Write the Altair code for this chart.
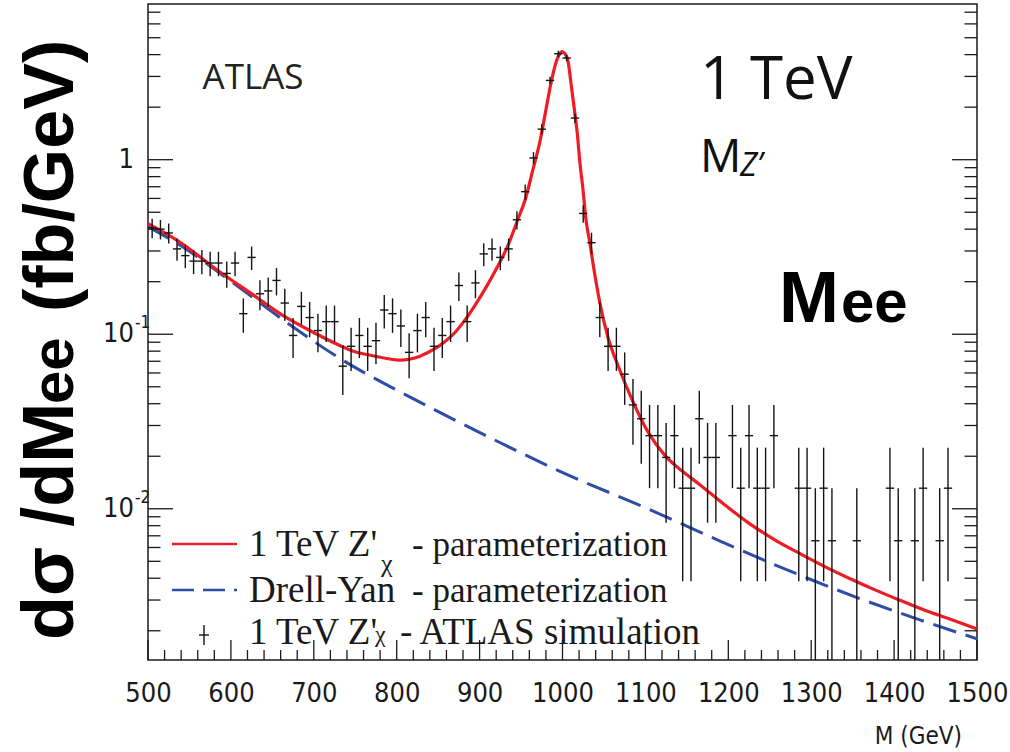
import altair as alt
import pandas as pd

W, H = 829, 656
X_MIN, X_MAX = 500, 1500
Y_MIN, Y_MAX = 1.36e-3, 7.8

# simulated Z' events in 10 GeV bins (500-1500 GeV)
bin_centers = list(range(505, 1500, 10))
event_counts = [62, 61, 58, 47, 43, 40, 40, 39, 39, 34,
                39, 20, 42, 26, 27, 31, 23, 15, 22, 19,
                16, 18, 18, 10, 13, 15, 13, 14, 21, 20,
                17, 12, 16, 19, 13, 15, 18, 29, 18, 30,
                44, 47, 42, 47, 69, 100, 156, 228, 434, 617,
                583, 264, 75, 51, 19, 13, 13, 9, 6, 5,
                4, 4, 3, 4, 2, 2, 5, 3, 3, 0,
                4, 2, 4, 2, 2, 4, 0, 0, 2, 2,
                1, 2, 1, 0, 0, 1, 0, 0, 0, 2,
                1, 0, 1, 2, 0, 1, 2, 0, 0, 0]
event_weight = 0.00656  # fb/GeV carried by one simulated event
bin_width = 10

# Z' (chi model) lineshape parameterization
zp_mass = [500, 536, 588, 623, 665, 705, 732, 746, 771, 798, 804, 828, 846,
           858, 870, 882, 895, 909, 921, 934, 946, 955, 964, 973, 980, 986,
           991, 996, 999, 1003, 1007, 1010, 1014, 1018, 1021, 1025, 1028,
           1033, 1039, 1045, 1055, 1067, 1084, 1103, 1124, 1144, 1166, 1196,
           1226, 1256, 1287, 1317, 1347, 1377, 1407, 1437, 1468, 1500]
zp_xsec = [0.430, 0.343, 0.225, 0.173, 0.126, 0.0993, 0.0859, 0.0804, 0.0753,
           0.0714, 0.0710, 0.0748, 0.0826, 0.0906, 0.102, 0.120, 0.148, 0.190,
           0.241, 0.321, 0.453, 0.590, 0.865, 1.285, 1.93, 2.73, 3.46, 4.00,
           4.16, 4.05, 3.60, 2.80, 1.99, 1.39, 0.961, 0.656, 0.465, 0.334,
           0.219, 0.152, 0.0955, 0.0660, 0.0421, 0.0276, 0.0201, 0.0165,
           0.0137, 0.0105, 0.00820, 0.00664, 0.00552, 0.00465, 0.00397,
           0.00343, 0.00299, 0.00262, 0.00233, 0.00205]

# Drell-Yan parameterization
dy_mass = [500, 536, 599, 675, 732, 804, 846, 925, 1003, 1101, 1192, 1262,
           1353, 1431, 1500]
dy_xsec = [0.413, 0.330, 0.2025, 0.110, 0.0724, 0.0468, 0.0369, 0.0239,
           0.0159, 0.0101, 0.00647, 0.00465, 0.00313, 0.00231, 0.00180]

x_major = list(range(500, 1501, 100))
x_minor = [m for m in range(500, 1501, 20) if m % 100 != 0]
y_major = [0.01, 0.1, 1.0]
y_label_base = ["10", "10", "1"]
y_label_exp = ["-2", "-1", ""]
y_minor = [k * 10.0 ** e for e in (-3, -2, -1, 0) for k in range(2, 10)
           if Y_MIN <= k * 10.0 ** e <= Y_MAX]

# ---------------------------------------------------------------- tables
pts = pd.DataFrame({"m": bin_centers, "n": event_counts})
pts = pts[pts["n"] > 0].copy()
pts["v"] = pts["n"] * event_weight
pts["err"] = pts["n"] ** 0.5 * event_weight          # Poisson uncertainty
pts["lo"] = (pts["v"] - pts["err"]).clip(lower=Y_MIN * 0.5)
pts["hi"] = pts["v"] + pts["err"]
pts["m0"] = pts["m"] - bin_width / 2
pts["m1"] = pts["m"] + bin_width / 2

zp = pd.DataFrame({"m": zp_mass, "v": zp_xsec})
dy = pd.DataFrame({"m": dy_mass, "v": dy_xsec})
ylab = pd.DataFrame({"v": y_major, "base": y_label_base, "exp": y_label_exp})

xs = alt.Scale(domain=[X_MIN, X_MAX], nice=False, zero=False)
ys = alt.Scale(type="log", domain=[Y_MIN, Y_MAX], nice=False)

TICK_FONT = "'DejaVu Sans Condensed', 'Roboto Condensed', Roboto"
INK = "#1a1a1a"

x_axis = alt.Axis(values=x_major, ticks=False, tickSize=0, domain=False,
                  grid=False, labelFont=TICK_FONT, labelFontSize=27,
                  labelColor=INK, labelPadding=20, labelOverlap=False,
                  labelFlush=False, title="", format="d")

dy_line = alt.Chart(dy).mark_line(
    color="#2f4da6", strokeWidth=3, strokeDash=[24, 10], interpolate="monotone",
    clip=True
).encode(x=alt.X("m:Q", scale=xs, axis=x_axis),
         y=alt.Y("v:Q", scale=ys, axis=None))

zp_line = alt.Chart(zp).mark_line(
    color="#ee1c24", strokeWidth=3.2, interpolate="monotone", clip=True
).encode(x=alt.X("m:Q", scale=xs), y=alt.Y("v:Q", scale=ys))

err_v = alt.Chart(pts).mark_rule(color="#141414", strokeWidth=1.4, clip=True).encode(
    x=alt.X("m:Q", scale=xs), y=alt.Y("lo:Q", scale=ys), y2="hi:Q")
err_h = alt.Chart(pts).mark_rule(color="#141414", strokeWidth=1.4, clip=True).encode(
    x=alt.X("m0:Q", scale=xs), x2="m1:Q", y=alt.Y("v:Q", scale=ys))

# y labels: mantissa right-aligned, exponent as superscript
ylab_base = alt.Chart(ylab).mark_text(
    font=TICK_FONT, fontSize=27, color=INK, align="right", baseline="middle"
).encode(y=alt.Y("v:Q", scale=ys), x=alt.value(-14), text="base:N")
ylab_exp = alt.Chart(ylab).mark_text(
    font=TICK_FONT, fontSize=17, color=INK, align="left", baseline="middle", dy=-11
).encode(y=alt.Y("v:Q", scale=ys), x=alt.value(-13), text="exp:N")

# inward ticks on the frame
ymaj = pd.DataFrame({"v": y_major})
ymin = pd.DataFrame({"v": y_minor})
xmaj = pd.DataFrame({"m": x_major})
xmin = pd.DataFrame({"m": x_minor})


def yticks(df, length, right=False):
    x0, x1 = (W, W - length) if right else (0, length)
    return alt.Chart(df).mark_rule(color=INK, strokeWidth=1.3).encode(
        y=alt.Y("v:Q", scale=ys), x=alt.value(x0), x2=alt.value(x1))


def xticks(df, length):
    return alt.Chart(df).mark_rule(color=INK, strokeWidth=1.3).encode(
        x=alt.X("m:Q", scale=xs), y=alt.value(H), y2=alt.value(H - length))


ticks = [yticks(ymaj, 25), yticks(ymin, 12.5), yticks(ymaj, 25, True),
         yticks(ymin, 12.5, True), xticks(xmaj, 20), xticks(xmin, 10)]


def text(t, x, y, **kw):
    return alt.Chart(pd.DataFrame({"t": [t]})).mark_text(**kw).encode(
        text="t:N", x=alt.value(x), y=alt.value(y))


OX, OY = 148, 4  # plot origin on the page
BOLD = "Liberation Sans"

labels = [
    text("ATLAS", 253 - OX, 89 - OY, font="Open Sans", fontSize=35,
         color="#222222", align="center", baseline="alphabetic"),
    text("1 TeV", 700 - OX, 99 - OY, font="Open Sans", fontSize=60,
         color="#111111", align="left", baseline="alphabetic"),
    text("M", 700 - OX, 172 - OY, font="Open Sans", fontSize=46,
         color="#111111", align="left", baseline="alphabetic"),
    text("Z’", 740 - OX, 176 - OY, font="Open Sans", fontSize=32,
         fontStyle="italic", color="#111111", align="left", baseline="alphabetic"),
    text("M", 779 - OX, 322 - OY, font=BOLD, fontSize=72,
         fontWeight="bold", color="#000000", align="left", baseline="alphabetic"),
    text("ee", 841 - OX, 322 - OY, font=BOLD, fontSize=60,
         fontWeight="bold", color="#000000", align="left", baseline="alphabetic"),
    text("M (GeV)", 962 - OX, 744 - OY, font=TICK_FONT, fontSize=24,
         color=INK, align="right", baseline="alphabetic"),
    # rotated y title, read bottom to top
    text("dσ /dM", 73 - OX, 640 - OY, font=BOLD, fontSize=72, fontWeight="bold",
         angle=270, align="left", baseline="alphabetic", color="#000000"),
    text("ee", 73 - OX, 404 - OY, font=BOLD, fontSize=60, fontWeight="bold",
         angle=270, align="left", baseline="alphabetic", color="#000000"),
    text("(fb/GeV)", 73 - OX, 312 - OY, font=BOLD, fontSize=70, fontWeight="bold",
         angle=270, align="left", baseline="alphabetic", color="#000000"),
]

SERIF = "Liberation Serif"


def rule(color, x0, x1, y0, y1, width, dash=None):
    kw = dict(color=color, strokeWidth=width)
    if dash:
        kw["strokeDash"] = dash
    enc = dict(x=alt.value(x0 - OX), y=alt.value(y0 - OY))
    if x1 != x0:
        enc["x2"] = alt.value(x1 - OX)
    if y1 != y0:
        enc["y2"] = alt.value(y1 - OY)
    return alt.Chart(pd.DataFrame({"k": [0]})).mark_rule(**kw).encode(**enc)


legend = [
    rule("#ee1c24", 172, 237, 544, 544, 2.5),
    rule("#2f4da6", 172, 237, 590, 590, 2.5, [22, 9]),
    rule("#141414", 204, 204, 625, 645, 1.4),
    rule("#141414", 199, 209, 635, 635, 1.4),
    text("1 TeV Z'", 249 - OX, 556 - OY, font=SERIF, fontSize=37, align="left",
         baseline="alphabetic", color=INK),
    text("χ", 381 - OX, 572 - OY, font=SERIF, fontSize=26, align="left",
         baseline="alphabetic", color=INK),
    text("- parameterization", 412 - OX, 556 - OY, font=SERIF, fontSize=35,
         align="left", baseline="alphabetic", color=INK),
    text("Drell-Yan", 249 - OX, 602 - OY, font=SERIF, fontSize=37,
         align="left", baseline="alphabetic", color=INK),
    text("- parameterization", 412 - OX, 602 - OY, font=SERIF, fontSize=35,
         align="left", baseline="alphabetic", color=INK),
    text("1 TeV Z'", 249 - OX, 644 - OY, font=SERIF, fontSize=37, align="left",
         baseline="alphabetic", color=INK),
    text("χ", 375 - OX, 642 - OY, font=SERIF, fontSize=24, align="left",
         baseline="alphabetic", color=INK),
    text("- ATLAS simulation", 400 - OX, 644 - OY, font=SERIF, fontSize=37,
         align="left", baseline="alphabetic", color=INK),
]

chart = alt.layer(dy_line, zp_line, err_v, err_h, ylab_base, ylab_exp, *ticks,
                  *labels, *legend).properties(
    width=W, height=H,
    autosize=alt.AutoSizeParams(type="none"),
    padding={"left": OX, "top": OY, "right": 1010 - OX - W, "bottom": 752 - OY - H},
    background="white",
).configure_view(stroke=INK, strokeWidth=1.5)

chart.save("out.html", embed_options={"renderer": "svg", "actions": False})
